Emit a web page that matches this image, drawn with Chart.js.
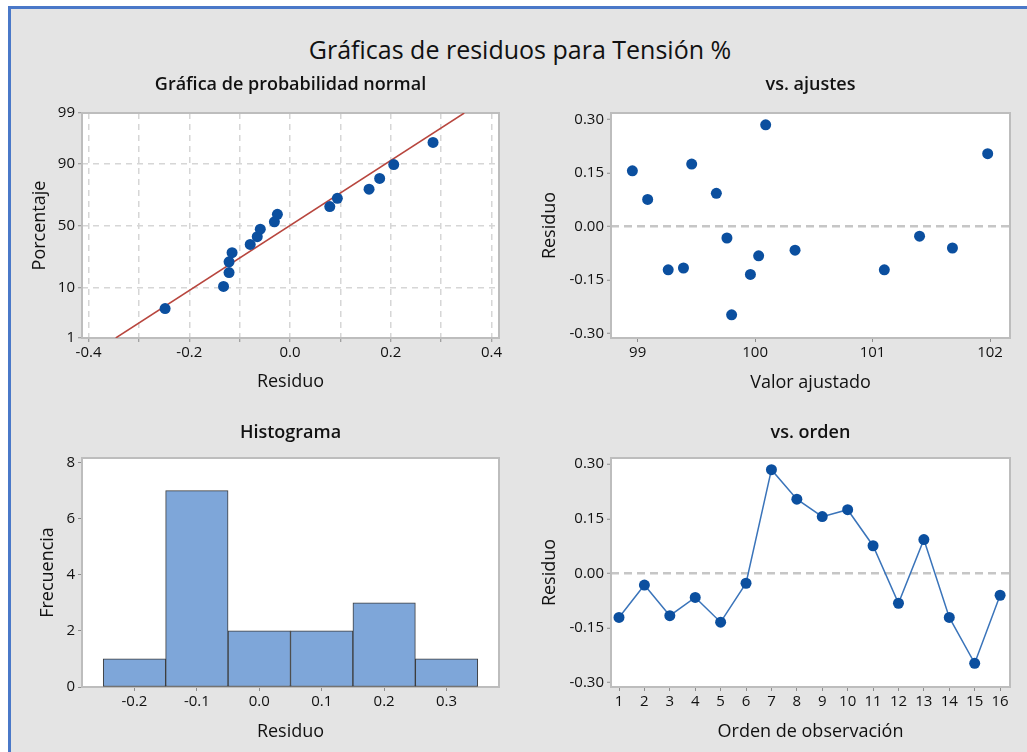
<!DOCTYPE html>
<html lang="es">
<head>
<meta charset="utf-8">
<title>Gráficas de residuos para Tensión %</title>
<script src="https://cdn.jsdelivr.net/npm/chart.js@4.4.1/dist/chart.umd.min.js"></script>
<style>
  html, body { margin: 0; padding: 0; background: #fff; overflow: hidden; width: 1027px; height: 752px; }
  #frame {
    position: absolute; left: 8px; top: 6px; width: 1040px; height: 760px;
    background: #e4e4e4; border-top: 3px solid #4a78c8; border-left: 3px solid #4a78c8;
    box-sizing: border-box;
  }
  #mainTitle {
    position: absolute; left: 13px; top: 32px; width: 1014px; line-height: 30px;
    text-align: center; font: 25px "Open Sans", "Noto Sans", sans-serif; color: #111;
  }
  canvas { position: absolute; }
</style>
</head>
<body>
<div id="frame"></div>
<div id="mainTitle">Gráficas de residuos para Tensión %</div>
<canvas id="probChart"></canvas>
<canvas id="fitChart"></canvas>
<canvas id="histChart"></canvas>
<canvas id="orderChart"></canvas>
<script>
// residuals in observation order (vs. orden)
const observations = [1, 2, 3, 4, 5, 6, 7, 8, 9, 10, 11, 12, 13, 14, 15, 16];
const residuals = [-0.121, -0.032, -0.116, -0.066, -0.134, -0.027, 0.285, 0.204,
                   0.156, 0.175, 0.076, -0.082, 0.093, -0.121, -0.247, -0.060];
// fitted values, same order (vs. ajustes)
const fittedValues = [99.26, 99.76, 99.39, 100.34, 99.96, 101.40, 100.09, 101.98,
                      98.955, 99.46, 99.085, 100.03, 99.67, 101.10, 99.80, 101.68];

// normal probability plot
const probResiduals = [-0.248, -0.132, -0.121, -0.121, -0.115, -0.079, -0.065, -0.059,
                       -0.031, -0.025, 0.079, 0.094, 0.157, 0.178, 0.206, 0.284];
const probPercent = [4.3, 10.4, 16.5, 22.6, 28.7, 34.8, 40.9, 47.0,
                     53.0, 59.1, 65.2, 71.3, 77.4, 83.5, 89.6, 95.7];
const fitLineResidual = [-0.346, 0.346];
const fitLinePercent = [1, 99];

// histogram
const binCenters = [-0.2, -0.1, 0.0, 0.1, 0.2, 0.3];
const binCounts = [1, 7, 2, 2, 3, 1];

// tick values
const probXTicks = [-0.4, -0.3, -0.2, -0.1, 0, 0.1, 0.2, 0.3, 0.4];
const probPctTicks = [1, 10, 50, 90, 99];
const residTicks = [-0.30, -0.15, 0, 0.15, 0.30];
const fitTicks = [99, 100, 101, 102];
const histXTicks = [-0.2, -0.1, 0, 0.1, 0.2, 0.3];
const histYTicks = [0, 2, 4, 6, 8];

const FONT = '"Open Sans", "Noto Sans", sans-serif';
const POINT = '#0b4f9f';
const TEXT = '#111';
const TITLE_SIZE = 18;   // panel titles
const AXIS_SIZE = 18;    // axis titles
const TICK_SIZE = 15;

// where each plot area sits on the page
const panels = {
  prob:  { plot: { left: 82, top: 113, right: 499, bottom: 338 }, yTitleX: 40, titleY: 85, xTitleY: 382 },
  fit:   { plot: { left: 611, top: 113, right: 1010, bottom: 338 }, yTitleX: 550, titleY: 85, xTitleY: 383 },
  hist:  { plot: { left: 82, top: 458, right: 499, bottom: 687 }, yTitleX: 48, titleY: 433, xTitleY: 732 },
  order: { plot: { left: 611, top: 458, right: 1010, bottom: 687 }, yTitleX: 550, titleY: 433, xTitleY: 732 }
};
const RIGHT_PAD = 12;

// inverse normal cdf (Acklam) for the probability scale
function normInv(p) {
  const a = [-3.969683028665376e+01, 2.209460984245205e+02, -2.759285104469687e+02, 1.383577518672690e+02, -3.066479806614716e+01, 2.506628277459239e+00];
  const b = [-5.447609879822406e+01, 1.615858368580409e+02, -1.556989798598866e+02, 6.680131188771972e+01, -1.328068155288572e+01];
  const c = [-7.784894002430293e-03, -3.223964580411365e-01, -2.400758277161838e+00, -2.549732539343734e+00, 4.374664141464968e+00, 2.938163982698783e+00];
  const d = [7.784695709041462e-03, 3.224671290700398e-01, 2.445134137142996e+00, 3.754408661907416e+00];
  const pl = 0.02425;
  if (p < pl) {
    const q = Math.sqrt(-2 * Math.log(p));
    return (((((c[0] * q + c[1]) * q + c[2]) * q + c[3]) * q + c[4]) * q + c[5]) / ((((d[0] * q + d[1]) * q + d[2]) * q + d[3]) * q + 1);
  }
  if (p > 1 - pl) {
    const q = Math.sqrt(-2 * Math.log(1 - p));
    return -(((((c[0] * q + c[1]) * q + c[2]) * q + c[3]) * q + c[4]) * q + c[5]) / ((((d[0] * q + d[1]) * q + d[2]) * q + d[3]) * q + 1);
  }
  const q = p - 0.5, r = q * q;
  return (((((a[0] * r + a[1]) * r + a[2]) * r + a[3]) * r + a[4]) * r + a[5]) * q / (((((b[0] * r + b[1]) * r + b[2]) * r + b[3]) * r + b[4]) * r + 1);
}

function setupCanvas(id, panel) {
  const p = panel.plot;
  const halfTitle = TITLE_SIZE * 1.2 / 2;
  const halfAxis = AXIS_SIZE * 1.2 / 2;
  const left = Math.round(panel.yTitleX - halfAxis - 2);
  const top = Math.round(panel.titleY - halfTitle - 4);
  const bottom = Math.round(panel.xTitleY + halfAxis + 2);
  const canvas = document.getElementById(id);
  canvas.width = p.right + RIGHT_PAD - left;
  canvas.height = bottom - top;
  canvas.style.left = left + 'px';
  canvas.style.top = top + 'px';
  return {
    canvas,
    yWidth: p.left - left,
    xHeight: bottom - p.bottom,
    titlePadBottom: p.top - top - 4 - TITLE_SIZE * 1.2
  };
}

// white plot background and grey frame
const plotFrame = {
  id: 'plotFrame',
  beforeDraw(chart) {
    const a = chart.chartArea, ctx = chart.ctx;
    ctx.save();
    ctx.fillStyle = '#fff';
    ctx.fillRect(a.left, a.top, a.width, a.height);
    ctx.restore();
  },
  beforeDatasetsDraw(chart) {
    const a = chart.chartArea, ctx = chart.ctx;
    ctx.save();
    ctx.strokeStyle = '#bdbdbd';
    ctx.lineWidth = 2;
    ctx.strokeRect(a.left, a.top, a.width, a.height);
    ctx.restore();
  }
};

function baseOptions(title, geo) {
  return {
    responsive: false,
    animation: false,
    layout: { padding: { left: 0, right: RIGHT_PAD, top: 0, bottom: 0 } },
    plugins: {
      legend: { display: false },
      tooltip: { enabled: false },
      title: {
        display: true, fullSize: false, text: title, color: TEXT,
        font: { family: FONT, size: TITLE_SIZE, weight: '600' },
        padding: { top: 4, bottom: geo.titlePadBottom }
      }
    }
  };
}

function axis(opts, geo, horizontal) {
  const s = {
    type: 'linear',
    min: opts.min, max: opts.max,
    afterBuildTicks: sc => { sc.ticks = opts.ticks.map(v => ({ value: v })); },
    grid: Object.assign({ drawOnChartArea: false, tickLength: 4, tickColor: '#8c8c8c', tickWidth: 1 }, opts.grid || {}),
    border: Object.assign({ display: false }, opts.border || {}),
    ticks: { padding: horizontal ? 2 : 3, color: TEXT, font: { family: FONT, size: TICK_SIZE }, callback: opts.label, maxRotation: 0, autoSkip: false },
    title: { display: true, text: opts.title, color: TEXT, font: { family: FONT, size: AXIS_SIZE }, padding: horizontal ? { top: 0, bottom: 2 } : { top: 2, bottom: 0 } }
  };
  if (horizontal) {
    s.afterFit = sc => { sc.height = geo.xHeight; };
  } else {
    s.afterFit = sc => { sc.width = geo.yWidth; };
  }
  return s;
}

const zeroLine = {
  drawOnChartArea: true,
  color: ctx => (ctx.tick && ctx.tick.value === 0) ? '#c6c6c6' : 'rgba(0,0,0,0)',
  lineWidth: 2.5
};

// 1. normal probability plot
(function () {
  const geo = setupCanvas('probChart', panels.prob);
  const opts = baseOptions('Gráfica de probabilidad normal', geo);
  opts.scales = {
    x: axis({
      min: -0.413, max: 0.415, ticks: probXTicks, title: 'Residuo',
      label: v => (Math.round(v * 10) % 2 === 0) ? v.toFixed(1) : '',
      grid: { drawOnChartArea: true, color: '#d6d6d6', lineWidth: 1.5 },
      border: { dash: [6, 5] }
    }, geo, true),
    y: axis({
      min: normInv(0.01), max: normInv(0.99),
      ticks: probPctTicks.map(p => normInv(p / 100)), title: 'Porcentaje',
      label: (v, i) => String(probPctTicks[i]),
      grid: { drawOnChartArea: true, color: '#d6d6d6', lineWidth: 1.5 },
      border: { dash: [6, 5] }
    }, geo, false)
  };
  new Chart(geo.canvas, {
    type: 'scatter',
    data: {
      datasets: [{
        data: probResiduals.map((r, i) => ({ x: r, y: normInv(probPercent[i] / 100) })),
        pointRadius: 5.5, pointBackgroundColor: POINT, pointBorderWidth: 0
      }, {
        data: fitLineResidual.map((r, i) => ({ x: r, y: normInv(fitLinePercent[i] / 100) })),
        showLine: true, pointRadius: 0, borderColor: '#b8463e', borderWidth: 1.5
      }]
    },
    options: opts,
    plugins: [plotFrame]
  });
})();

// 2. residuals vs fitted values
(function () {
  const geo = setupCanvas('fitChart', panels.fit);
  const opts = baseOptions('vs. ajustes', geo);
  opts.scales = {
    x: axis({ min: 98.773, max: 102.17, ticks: fitTicks, title: 'Valor ajustado', label: v => String(v) }, geo, true),
    y: axis({
      min: -0.312, max: 0.318, ticks: residTicks, title: 'Residuo', label: v => v.toFixed(2),
      grid: zeroLine, border: { dash: [8, 5] }
    }, geo, false)
  };
  new Chart(geo.canvas, {
    type: 'scatter',
    data: {
      datasets: [{
        data: fittedValues.map((f, i) => ({ x: f, y: residuals[i] })),
        pointRadius: 5.5, pointBackgroundColor: POINT, pointBorderWidth: 0
      }]
    },
    options: opts,
    plugins: [plotFrame]
  });
})();

// 3. histogram
(function () {
  const geo = setupCanvas('histChart', panels.hist);
  const opts = baseOptions('Histograma', geo);
  const x = axis({ min: -0.284, max: 0.384, ticks: histXTicks, title: 'Residuo', label: v => v.toFixed(1) }, geo, true);
  x.offset = false;
  x.grid.offset = false;
  opts.scales = {
    x: x,
    y: axis({ min: 0, max: 8.16, ticks: histYTicks, title: 'Frecuencia', label: v => String(v) }, geo, false)
  };
  new Chart(geo.canvas, {
    type: 'bar',
    data: {
      datasets: [{
        data: binCenters.map((c, i) => ({ x: c, y: binCounts[i] })),
        backgroundColor: '#7ea6d9', borderColor: '#3c3c3c', borderWidth: 1,
        borderSkipped: false, categoryPercentage: 1, barPercentage: 1
      }]
    },
    options: opts,
    plugins: [plotFrame]
  });
})();

// 4. residuals vs observation order
(function () {
  const geo = setupCanvas('orderChart', panels.order);
  const opts = baseOptions('vs. orden', geo);
  opts.scales = {
    x: axis({ min: 0.685, max: 16.39, ticks: observations, title: 'Orden de observación', label: v => String(v) }, geo, true),
    y: axis({
      min: -0.312, max: 0.317, ticks: residTicks, title: 'Residuo', label: v => v.toFixed(2),
      grid: zeroLine, border: { dash: [8, 5] }
    }, geo, false)
  };
  new Chart(geo.canvas, {
    type: 'scatter',
    data: {
      datasets: [{
        data: observations.map((o, i) => ({ x: o, y: residuals[i] })),
        showLine: true, borderColor: '#3a74ba', borderWidth: 1.5,
        pointRadius: 5.5, pointBackgroundColor: POINT, pointBorderWidth: 0
      }]
    },
    options: opts,
    plugins: [plotFrame]
  });
})();
</script>
</body>
</html>
